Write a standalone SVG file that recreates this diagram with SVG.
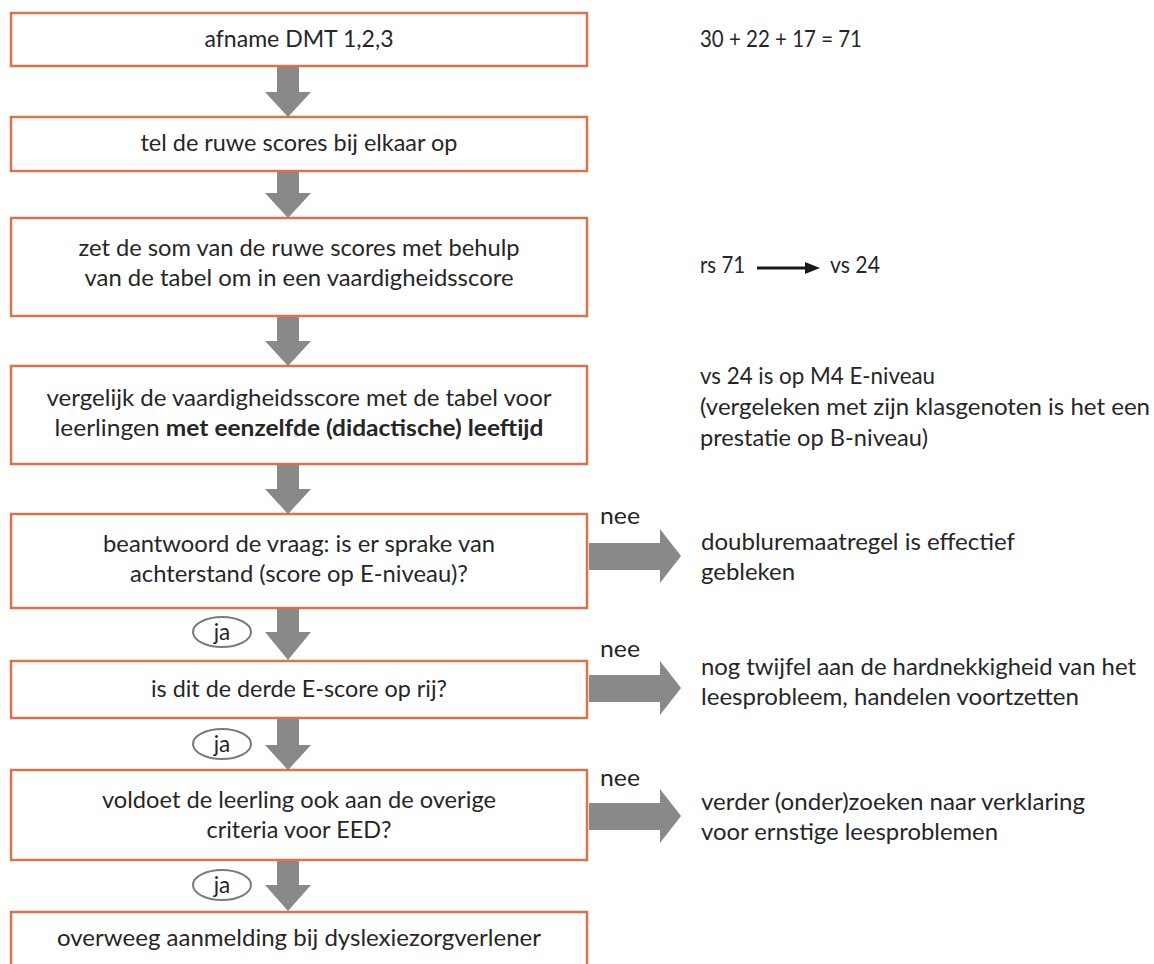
<svg xmlns="http://www.w3.org/2000/svg" width="1154" height="964" viewBox="0 0 1154 964">
<style>
.box{fill:#fff;stroke:#D8734B;stroke-width:2.5}
.t{font-family:Lato,"Open Sans","Liberation Sans",sans-serif;font-size:22.5px;fill:#262626}
.c{text-anchor:middle}
.b{font-weight:bold}
.arr{fill:#898989}
.ja{fill:#fff;stroke:#7a7a7a;stroke-width:2}
</style>
<rect width="1154" height="964" fill="#fff"/>
<g id="connectors">
  <polygon class="arr" points="277,66 299,66 299,92 311,92 288,117 265,92 277,92"/>
  <polygon class="arr" points="277,171 299,171 299,193 311,193 288,218 265,193 277,193"/>
  <polygon class="arr" points="277,316 299,316 299,341 311,341 288,366 265,341 277,341"/>
  <polygon class="arr" points="277,464 299,464 299,489 311,489 288,514 265,489 277,489"/>
  <polygon class="arr" points="277,608 299,608 299,632 311,632 288,660 265,632 277,632"/>
  <polygon class="arr" points="277,718 299,718 299,745 311,745 288,770 265,745 277,745"/>
  <polygon class="arr" points="277,860 299,860 299,885 311,885 288,911 265,885 277,885"/>
  <polygon class="arr" points="589,543 660,543 660,529 681,556 660,583 660,570 589,570"/>
  <polygon class="arr" points="589,675 660,675 660,661 681,688 660,715 660,702 589,702"/>
  <polygon class="arr" points="589,803 660,803 660,789 681,816 660,843 660,830 589,830"/>
  <text class="t" x="600" y="524" textLength="40" lengthAdjust="spacingAndGlyphs">nee</text>
  <text class="t" x="600" y="657" textLength="40" lengthAdjust="spacingAndGlyphs">nee</text>
  <text class="t" x="600" y="786" textLength="40" lengthAdjust="spacingAndGlyphs">nee</text>
  <ellipse class="ja" cx="222" cy="632" rx="29" ry="15"/>
  <text class="t c" x="222" y="640">ja</text>
  <ellipse class="ja" cx="222" cy="744" rx="29" ry="15"/>
  <text class="t c" x="222" y="752">ja</text>
  <ellipse class="ja" cx="222" cy="885" rx="29" ry="15"/>
  <text class="t c" x="222" y="893">ja</text>
</g>
<g id="n1">
  <rect class="box" x="11" y="13" width="576" height="53"/>
  <text class="t c" x="299" y="47" textLength="189" lengthAdjust="spacingAndGlyphs">afname DMT 1,2,3</text>
</g>
<g id="n2">
  <rect class="box" x="11" y="117" width="576" height="54"/>
  <text class="t c" x="299" y="151" textLength="317" lengthAdjust="spacingAndGlyphs">tel de ruwe scores bij elkaar op</text>
</g>
<g id="n3">
  <rect class="box" x="11" y="218" width="576" height="98"/>
  <text class="t c" x="299" y="256" textLength="441" lengthAdjust="spacingAndGlyphs">zet de som van de ruwe scores met behulp</text>
  <text class="t c" x="299" y="286" textLength="429" lengthAdjust="spacingAndGlyphs">van de tabel om in een vaardigheidsscore</text>
</g>
<g id="n4">
  <rect class="box" x="11" y="366" width="576" height="98"/>
  <text class="t c" x="299" y="406" textLength="505" lengthAdjust="spacingAndGlyphs">vergelijk de vaardigheidsscore met de tabel voor</text>
  <text class="t c" x="299" y="436" textLength="489" lengthAdjust="spacingAndGlyphs">leerlingen <tspan class="b">met eenzelfde (didactische) leeftijd</tspan></text>
</g>
<g id="n5">
  <rect class="box" x="11" y="514" width="576" height="94"/>
  <text class="t c" x="299" y="552" textLength="392" lengthAdjust="spacingAndGlyphs">beantwoord de vraag: is er sprake van</text>
  <text class="t c" x="299" y="582" textLength="338" lengthAdjust="spacingAndGlyphs">achterstand (score op E-niveau)?</text>
</g>
<g id="n6">
  <rect class="box" x="11" y="661" width="576" height="57"/>
  <text class="t c" x="299" y="697" textLength="296" lengthAdjust="spacingAndGlyphs">is dit de derde E-score op rij?</text>
</g>
<g id="n7">
  <rect class="box" x="11" y="770" width="576" height="90"/>
  <text class="t c" x="299" y="808" textLength="394" lengthAdjust="spacingAndGlyphs">voldoet de leerling ook aan de overige</text>
  <text class="t c" x="299" y="838" textLength="185" lengthAdjust="spacingAndGlyphs">criteria voor EED?</text>
</g>
<g id="n8">
  <rect class="box" x="11" y="912" width="576" height="70"/>
  <text class="t c" x="299" y="946" textLength="484" lengthAdjust="spacingAndGlyphs">overweeg aanmelding bij dyslexiezorgverlener</text>
</g>
<g id="notes">
  <text class="t" x="700" y="47" textLength="162" lengthAdjust="spacingAndGlyphs">30 + 22 + 17 = 71</text>
  <text class="t" x="700" y="273" textLength="45" lengthAdjust="spacingAndGlyphs">rs 71</text>
  <line x1="757" y1="268" x2="808" y2="268" stroke="#1a1a1a" stroke-width="3"/>
  <polygon points="805,262 820,268 805,274" fill="#1a1a1a"/>
  <text class="t" x="830" y="273" textLength="50" lengthAdjust="spacingAndGlyphs">vs 24</text>
  <text class="t" x="700" y="384" textLength="235" lengthAdjust="spacingAndGlyphs">vs 24 is op M4 E-niveau</text>
  <text class="t" x="700" y="415" textLength="450" lengthAdjust="spacingAndGlyphs">(vergeleken met zijn klasgenoten is het een</text>
  <text class="t" x="700" y="446" textLength="228" lengthAdjust="spacingAndGlyphs">prestatie op B-niveau)</text>
  <text class="t" x="701" y="550" textLength="314" lengthAdjust="spacingAndGlyphs">doubluremaatregel is effectief</text>
  <text class="t" x="701" y="580" textLength="94" lengthAdjust="spacingAndGlyphs">gebleken</text>
  <text class="t" x="701" y="675" textLength="435" lengthAdjust="spacingAndGlyphs">nog twijfel aan de hardnekkigheid van het</text>
  <text class="t" x="701" y="705" textLength="378" lengthAdjust="spacingAndGlyphs">leesprobleem, handelen voortzetten</text>
  <text class="t" x="701" y="810" textLength="384" lengthAdjust="spacingAndGlyphs">verder (onder)zoeken naar verklaring</text>
  <text class="t" x="701" y="840" textLength="297" lengthAdjust="spacingAndGlyphs">voor ernstige leesproblemen</text>
</g>
</svg>
